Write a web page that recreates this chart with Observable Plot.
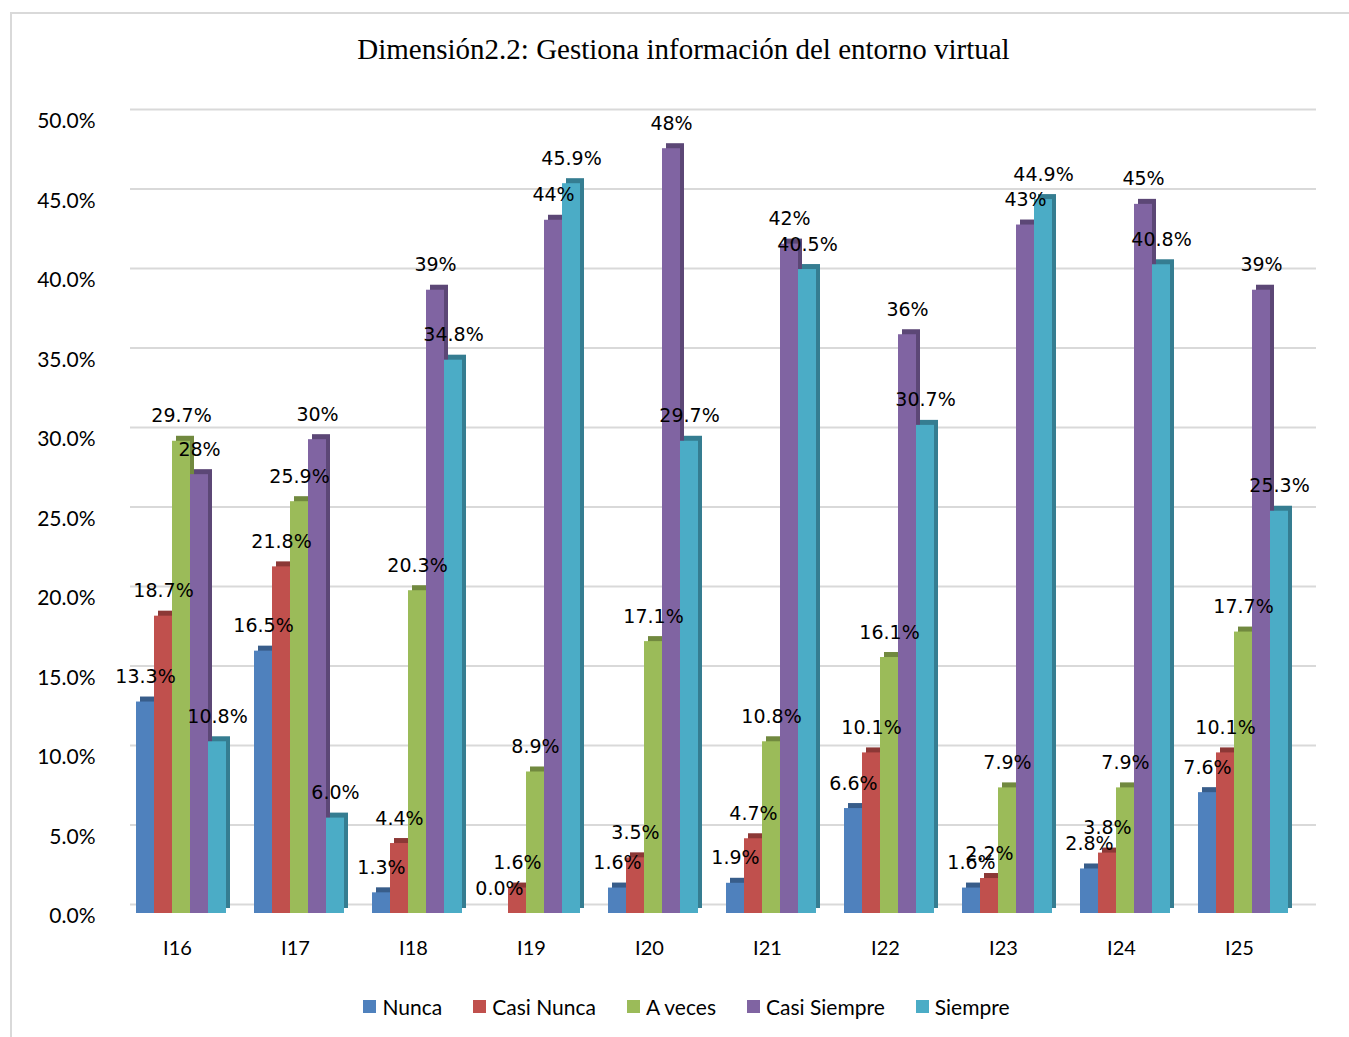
<!DOCTYPE html>
<html>
<head>
<meta charset="utf-8">
<script src="https://cdn.jsdelivr.net/npm/d3@7"></script>
<script src="https://cdn.jsdelivr.net/npm/@observablehq/plot@0.6"></script>
<style>
  html, body { margin: 0; padding: 0; background: #fff; overflow: hidden; width: 1349px; height: 1037px; }
  #frame { position: absolute; left: 10px; top: 12px; width: 1345px; height: 1030px; border: 2px solid #d9d9d9; box-sizing: border-box; }
  #title { position: absolute; left: 14px; width: 1339px; top: 33px; text-align: center; font-family: "Liberation Serif", serif; font-size: 29px; color: #000; }
  .layer { position: absolute; left: 0; top: 80px; }
  #legend { position: absolute; left: 12px; width: 1349px; top: 994px; display: flex; justify-content: center; gap: 31px; font-family: Lato, sans-serif; font-size: 21px; color: #000; }
  .item { display: flex; align-items: center; gap: 6px; }
  .sw { width: 13px; height: 13px; display: inline-block; }
</style>
</head>
<body>
<div id="frame"></div>
<div id="title">Dimensión2.2: Gestiona información del entorno virtual</div>
<div id="bg" class="layer"></div>
<div id="fg" class="layer"></div>
<div id="legend"></div>
<script>
// ---- data ----
const categories = ["I16", "I17", "I18", "I19", "I20", "I21", "I22", "I23", "I24", "I25"];
const series = ["Nunca", "Casi Nunca", "A veces", "Casi Siempre", "Siempre"];
const nunca       = [13.3, 16.5, 1.3, 0.0, 1.6, 1.9, 6.6, 1.6, 2.8, 7.6];
const casiNunca   = [18.7, 21.8, 4.4, 1.6, 3.5, 4.7, 10.1, 2.2, 3.8, 10.1];
const aVeces      = [29.7, 25.9, 20.3, 8.9, 17.1, 10.8, 16.1, 7.9, 7.9, 17.7];
const casiSiempre = [27.6, 29.8, 39.2, 43.6, 48.1, 42.1, 36.4, 43.3, 44.6, 39.2];
const siempre     = [10.8, 6.0, 34.8, 45.9, 29.7, 40.5, 30.7, 44.9, 40.8, 25.3];
const labelDecimals = [1, 1, 1, 0, 1];
const yTicks = [0, 5, 10, 15, 20, 25, 30, 35, 40, 45, 50];

// ---- styles ----
const colors = ["#4F81BD", "#C0504D", "#9BBB59", "#8064A2", "#4BACC6"];
const darks  = ["#385D8A", "#8C3836", "#71893F", "#5C4776", "#357D91"];

const seriesValues = [nunca, casiNunca, aVeces, casiSiempre, siempre];
const table = categories.flatMap((c, i) => series.map((s, j) => ({
  cat: c, series: s, idx: j, value: seriesValues[j][i],
  label: seriesValues[j][i].toFixed(labelDecimals[j]) + "%"
})));

const W = 1349, H = 900;
const common = { width: W, height: H, marginLeft: 118, marginRight: 50, marginTop: 38, marginBottom: 67 };

const bg = Plot.plot({
  ...common,
  style: { background: "transparent", fontFamily: "Lato, sans-serif", fontSize: "21px", color: "#000" },
  y: { domain: [0, 50], ticks: yTicks, tickFormat: d => d.toFixed(1) + "%", tickSize: 0, tickPadding: 23, label: null },
  marks: [
    Plot.ruleY(yTicks, { stroke: "#d9d9d9", strokeWidth: 2, dy: -9, insetLeft: 12, insetRight: -17 }),
    Plot.axisY({ ticks: yTicks, tickFormat: d => d.toFixed(1) + "%", tickSize: 0, tickPadding: 23, label: null, dy: 3 })
  ]
});
document.getElementById("bg").appendChild(bg);

const fg = Plot.plot({
  ...common,
  style: { background: "transparent", fontFamily: "Lato, sans-serif", fontSize: "20px", color: "#000" },
  fx: { domain: categories, paddingInner: 0.22, paddingOuter: 0.11, label: null, tickSize: 0, tickPadding: 27 },
  x: { domain: series, axis: null, padding: 0 },
  y: { domain: [0, 50], axis: null },
  color: { type: "identity" },
  marks: [
    Plot.barY(table, { fx: "cat", x: "series", y: "value", fill: d => darks[d.idx], dx: 8, dy: -5 }),
    Plot.barY(table, { fx: "cat", x: "series", y: "value", fill: d => colors[d.idx], dx: 4 }),
    Plot.text(table, { fx: "cat", x: "series", y: "value", text: "label", dx: 4, dy: -25, fontSize: 19, fontFamily: "DejaVu Sans", fill: "#000" })
  ]
});
document.getElementById("fg").appendChild(fg);

const legend = document.getElementById("legend");
series.forEach((s, j) => {
  const it = document.createElement("div");
  it.className = "item";
  it.innerHTML = `<span class="sw" style="background:${colors[j]}"></span><span>${s}</span>`;
  legend.appendChild(it);
});
</script>
</body>
</html>
